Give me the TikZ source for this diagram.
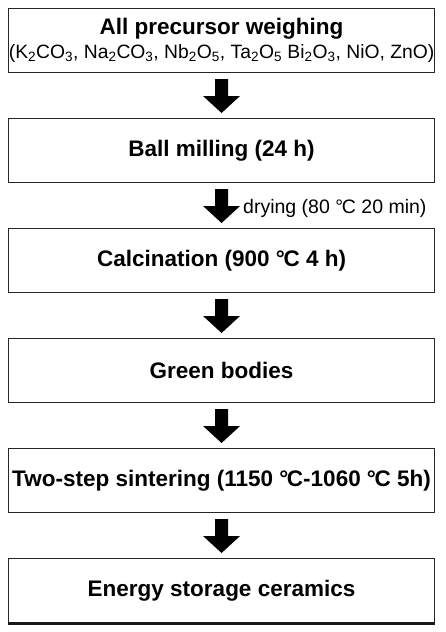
\documentclass[tikz,border=0pt]{standalone}
\usepackage{fontspec}
\usetikzlibrary{calc}
\setmainfont{Liberation Sans}
\newcommand{\dgc}{°\kern-0.06em C}
\newcommand{\sbs}[1]{\textsubscript{#1}}
\begin{document}
\begin{tikzpicture}[x=1pt,y=-1pt,
  stepbox/.style={draw=black!85,line width=1.1pt,minimum width=426pt,minimum height=64pt,inner sep=0pt,align=center,anchor=north west,font=\bfseries\fontsize{22.5}{26}\selectfont},
  fatarrow/.style={fill=black}]
\useasboundingbox (0,0) rectangle (445,632);
\node[stepbox] (b1) at (8,8) {All precursor weighing\\[-2pt]{\mdseries\fontsize{19.3}{22}\selectfont (K\sbs{2}CO\sbs{3}, Na\sbs{2}CO\sbs{3}, Nb\sbs{2}O\sbs{5}, Ta\sbs{2}O\sbs{5} Bi\sbs{2}O\sbs{3}, NiO, ZnO)}};
\node[stepbox] (b2) at (8,118) {Ball milling (24 h)};
\node[stepbox] (b3) at (8,228) {Calcination (900 \dgc\ 4 h)};
\node[stepbox] (b4) at (8,338) {Green bodies};
\node[stepbox] (b5) at (8,448) {Two-step sintering (1150 \dgc-1060 \dgc\ 5h)};
\node[stepbox] (b6) at (8,558) {Energy storage ceramics};
\draw[line width=3pt,black!90] (b6.south west) -- (b6.south east);
\foreach \a/\b in {b1/b2,b2/b3,b3/b4,b4/b5,b5/b6}{
  \path (\a.south) ++(0,6) coordinate (t\a);
  \path (\b.north) ++(0,-5) coordinate (h\b);
  \fill[fatarrow] ($(t\a)+(-6.5,0)$) -- ($(t\a)+(6.5,0)$) -- ($(h\b)+(6.5,-17)$) -- ($(h\b)+(18.5,-17)$) -- (h\b) -- ($(h\b)+(-18.5,-17)$) -- ($(h\b)+(-6.5,-17)$) -- cycle;
}
\node[anchor=west,font=\fontsize{19.5}{22}\selectfont,inner sep=0pt] (dry) at (243,208) {drying (80 \dgc\ 20 min)};
\end{tikzpicture}
\end{document}
